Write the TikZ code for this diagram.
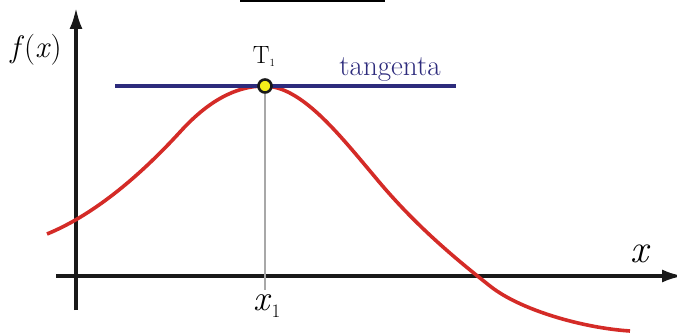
\documentclass[tikz,border=0pt]{standalone}
\usetikzlibrary{arrows.meta}
\definecolor{rojo}{HTML}{D42B27}
\definecolor{marino}{HTML}{2D2B7C}
\definecolor{gris}{HTML}{A8A8A8}
\definecolor{amarillo}{HTML}{F6EE1A}

\begin{document}
\begin{tikzpicture}[x=1pt, y=-1pt, >={Latex[length=22pt, width=13pt]},
      eje/.style={line width=4pt, black!90},
      curva/.style={line width=3.6pt, rojo},
      etiq/.style={inner sep=0pt, anchor=center}]
    \useasboundingbox (0,0) rectangle (677,334);
    \clip (0,0) rectangle (677,334);
    % ejes
    \coordinate (ybot) at (76,310);
    \coordinate (ytop) at (76,7);
    \coordinate (xizq) at (56,276);
    \coordinate (xder) at (684,276);
    \draw[eje, ->] (ybot) -- (ytop);
    \draw[eje, ->] (xizq) -- (xder);
    % barra superior
    \coordinate (barizq) at (240,1);
    \coordinate (barder) at (385,1);
    \draw[line width=3pt] (barizq) -- (barder);
    % curva
    \coordinate (cini) at (47,234);
    \coordinate (cinf1) at (180,132);
    \coordinate (cmax) at (264,86);
    \coordinate (cinf2) at (375,177);
    \coordinate (crec) at (490,286);
    \coordinate (cfin) at (630,331);
    \draw[curva] (cini) .. controls (91,216) and (136,180) .. (cinf1)
        .. controls (208,101) and (236,86) .. (cmax)
        .. controls (301,86) and (338,133) .. (cinf2)
        .. controls (413,223) and (452,256) .. (crec)
        .. controls (520,310) and (583,328) .. (cfin);
    % tangente y punto
    \coordinate (tanizq) at (115,86);
    \coordinate (tander) at (456,86);
    \coordinate (pie) at (265,290);
    \draw[marino, line width=3.6pt] (tanizq) -- (tander);
    \node[circle, draw=black!90, fill=amarillo, line width=2.6pt, minimum size=13pt,
          inner sep=0pt] (t1) at (265,86) {};
    \draw[gris, line width=1.4pt] (t1.south) -- (pie);
    % textos
    \node[etiq, font=\fontsize{31}{31}\selectfont] (fx) at (36,50) {\textit{f}(\textit{x})};
    \node[etiq, font=\fontsize{40}{40}\selectfont] (xl) at (641,254) {\textit{x}};
    \node[etiq, font=\fontsize{36}{36}\selectfont] (x1) at (267,306)
        {\textit{x}\raisebox{-7pt}{\fontsize{19}{19}\selectfont 1}};
    \node[etiq, font=\fontsize{25}{25}\selectfont] (tt) at (264,57)
        {T\raisebox{-3pt}{\fontsize{11}{11}\selectfont 1}};
    \node[etiq, font=\fontsize{29}{29}\selectfont, text=marino] (tg) at (390,70) {tangenta};
\end{tikzpicture}
\end{document}
